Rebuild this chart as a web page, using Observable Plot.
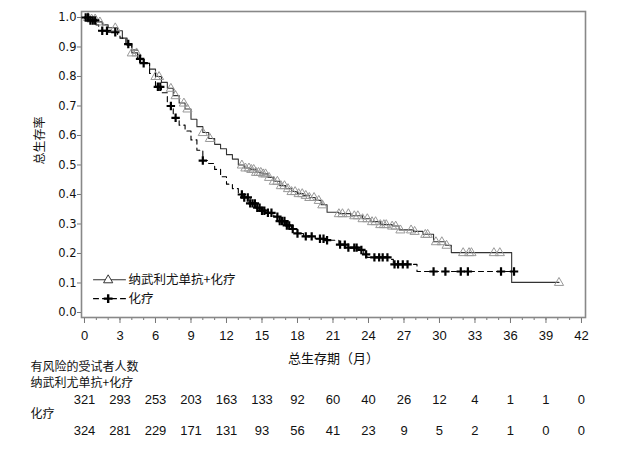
<!DOCTYPE html>
<html>
<head>
<meta charset="utf-8">
<script src="https://cdn.jsdelivr.net/npm/d3@7"></script>
<script src="https://cdn.jsdelivr.net/npm/@observablehq/plot@0.6"></script>
<style>
  html, body { margin: 0; padding: 0; background: #fff; }
  #chart { width: 627px; height: 454px; }
</style>
</head>
<body>
<div id="chart"></div>
<script>
// ---- Data ----
const seriesNames = ["纳武利尤单抗+化疗", "化疗"];

// Kaplan–Meier step points: nivolumab + chemo
const nivoT = [0, 0.5, 1.0, 1.5, 2.0, 2.8, 3.2, 3.6, 4.0, 4.5, 5.0, 5.5, 6.0, 6.5, 7.0, 7.5, 8.0, 8.5, 9.0, 9.5, 10.0, 10.5, 11.0, 11.5, 12.0, 12.5, 13.0, 13.5, 14.0, 14.5, 15.0, 15.5, 16.0, 16.5, 17.0, 17.5, 18.0, 18.5, 19.0, 19.5, 20.0, 20.5, 21.5, 22.5, 23.5, 24.2, 25.0, 26.0, 26.6, 27.8, 28.6, 29.5, 30.5, 31.0, 36.1, 40.1];
const nivoS = [1.0, 0.995, 0.985, 0.975, 0.965, 0.955, 0.93, 0.905, 0.88, 0.86, 0.845, 0.825, 0.80, 0.78, 0.76, 0.735, 0.71, 0.69, 0.655, 0.63, 0.61, 0.59, 0.57, 0.555, 0.535, 0.52, 0.50, 0.49, 0.485, 0.475, 0.47, 0.458, 0.445, 0.43, 0.42, 0.41, 0.403, 0.397, 0.39, 0.38, 0.365, 0.34, 0.335, 0.328, 0.318, 0.308, 0.298, 0.293, 0.28, 0.275, 0.265, 0.24, 0.228, 0.203, 0.102, 0.102];
// censoring times, nivolumab + chemo
const nivoCensorT = [0.3, 0.6, 0.9, 1.3, 2.6, 4.0, 4.4, 6.0, 6.3, 7.3, 7.7, 8.4, 8.7, 10.0, 10.6, 13.3, 13.6, 13.9, 14.1, 14.3, 14.5, 14.7, 14.9, 15.1, 15.3, 15.6, 16.0, 16.3, 16.6, 16.9, 17.2, 17.5, 17.8, 18.1, 18.4, 18.7, 19.0, 19.4, 19.8, 20.1, 21.5, 21.8, 22.3, 22.8, 23.1, 23.5, 23.9, 24.3, 24.6, 25.0, 25.3, 25.5, 26.0, 26.3, 26.7, 27.6, 27.9, 28.8, 29.0, 29.7, 30.2, 30.6, 32.0, 32.5, 32.7, 34.6, 35.1, 40.1];

// Kaplan–Meier step points: chemo
const chemoT = [0, 0.5, 1.0, 1.2, 2.0, 2.8, 3.0, 3.5, 4.0, 4.5, 5.0, 5.5, 6.0, 6.5, 7.0, 7.5, 8.0, 8.5, 9.0, 9.5, 10.0, 10.5, 11.0, 11.5, 12.0, 12.5, 13.0, 13.5, 14.0, 14.5, 15.0, 15.5, 16.0, 16.5, 17.0, 17.5, 18.0, 18.5, 19.5, 20.5, 21.5, 22.3, 23.2, 23.6, 23.9, 25.8, 26.1, 28.1, 36.3];
const chemoS = [1.0, 0.99, 0.975, 0.955, 0.95, 0.94, 0.93, 0.91, 0.89, 0.86, 0.845, 0.81, 0.765, 0.745, 0.70, 0.66, 0.635, 0.615, 0.585, 0.55, 0.515, 0.505, 0.485, 0.46, 0.435, 0.42, 0.40, 0.39, 0.37, 0.355, 0.345, 0.338, 0.325, 0.31, 0.295, 0.283, 0.268, 0.258, 0.25, 0.245, 0.23, 0.22, 0.212, 0.197, 0.187, 0.18, 0.163, 0.139, 0.139];
// censoring times, chemo
const chemoCensorT = [0.1, 0.3, 0.5, 0.7, 0.9, 1.5, 1.9, 2.6, 3.7, 4.7, 5.0, 6.2, 6.4, 7.3, 7.7, 10.0, 13.3, 13.5, 13.8, 14.0, 14.2, 14.4, 14.6, 14.8, 15.0, 15.2, 15.5, 15.8, 16.3, 16.5, 16.7, 16.9, 17.1, 17.3, 17.6, 18.0, 18.7, 19.2, 19.9, 20.2, 20.5, 21.6, 22.0, 22.3, 22.8, 23.0, 23.4, 23.8, 24.5, 24.9, 25.2, 25.6, 26.2, 26.5, 26.9, 27.3, 29.5, 30.5, 31.8, 32.4, 35.2, 36.3];

// axes
const xTicks = [0, 3, 6, 9, 12, 15, 18, 21, 24, 27, 30, 33, 36, 39, 42];
const xMinorTicks = d3.range(0, 43, 1);
const yTicks = [0, 0.1, 0.2, 0.3, 0.4, 0.5, 0.6, 0.7, 0.8, 0.9, 1.0];

// number at risk
const riskTitle = "有风险的受试者人数";
const riskNivo = [321, 293, 253, 203, 163, 133, 92, 60, 40, 26, 12, 4, 1, 1, 0];
const riskChemo = [324, 281, 229, 171, 131, 93, 56, 41, 23, 9, 5, 2, 1, 0, 0];

const xLabel = "总生存期（月）";
const yLabel = "总生存率";

// ---- Build tables ----
const toSteps = (T, S) => T.map((t, i) => ({t, s: S[i]}));
const stepAt = (T, S, t) => { let v = S[0]; for (let i = 0; i < T.length; i++) if (T[i] <= t) v = S[i]; return v; };
const nivoSteps = toSteps(nivoT, nivoS);
const chemoSteps = toSteps(chemoT, chemoS);
const nivoCensor = nivoCensorT.map(t => ({t, s: stepAt(nivoT, nivoS, t)}));
const chemoCensor = chemoCensorT.map(t => ({t, s: stepAt(chemoT, chemoS, t)}));

// custom symbols
const plusSym = { draw(ctx, size) { const r = Math.sqrt(size / Math.PI); ctx.moveTo(-r, 0); ctx.lineTo(r, 0); ctx.moveTo(0, -r); ctx.lineTo(0, r); } };
const triSym = { draw(ctx, size) { const r = Math.sqrt(size / Math.PI); const h = r * Math.sqrt(3); ctx.moveTo(0, -h * 0.62); ctx.lineTo(r, h * 0.38); ctx.lineTo(-r, h * 0.38); ctx.closePath(); } };

// legend (in data coordinates, lower-left of the panel)
const legendY = [0.111, 0.047];
const legendX = [0.76, 3.46];
const legendMarkX = 2.0;
const legendTextX = 3.72;

const cjk = "'Noto Sans CJK SC', 'Noto Sans', sans-serif";
const latin = "'Liberation Sans', Arial, sans-serif";

const plot = Plot.plot({
  width: 627,
  height: 454,
  marginLeft: 81,
  marginRight: 42,
  marginTop: 11,
  marginBottom: 137,
  x: { domain: [-0.2535, 42.34] },
  y: { domain: [-0.01695, 1.0203] },
  style: { background: "#fff", color: "#000" },
  marks: [
    // axes ticks
    Plot.axisX({ ticks: xMinorTicks, tickSize: 3, tickFormat: () => "", stroke: "#777", label: null }),
    Plot.axisX({ ticks: xTicks, tickSize: 6, tickFormat: () => "", stroke: "#777", label: null }),
    Plot.axisY({ ticks: yTicks, tickSize: 4, tickFormat: () => "", stroke: "#777", label: null }),
    Plot.frame({ stroke: "#888", strokeWidth: 1.6 }),
    // tick labels
    Plot.text(xTicks, { x: d => d, text: d => String(d), frameAnchor: "bottom", dy: 18, lineAnchor: "middle", fontSize: 13, fontFamily: latin, fill: "#111" }),
    Plot.text(yTicks, { y: d => d, text: d => d.toFixed(1), frameAnchor: "left", dx: -5, textAnchor: "end", lineAnchor: "middle", fontSize: 11.5, fontFamily: "'DejaVu Sans', sans-serif", fill: "#111" }),
    // axis labels
    Plot.text([xLabel], { frameAnchor: "bottom", dy: 41, lineAnchor: "middle", fontSize: 13, fontFamily: cjk, fill: "#111" }),
    Plot.text([yLabel], { frameAnchor: "left", dx: -41, rotate: -90, lineAnchor: "middle", fontSize: 12, fontFamily: cjk, fill: "#111" }),
    // curves
    Plot.line(nivoSteps, { x: "t", y: "s", curve: "step-after", stroke: "#333", strokeWidth: 1.1 }),
    Plot.line(chemoSteps, { x: "t", y: "s", curve: "step-after", stroke: "#000", strokeWidth: 1.1, strokeDasharray: "5,4" }),
    // censor marks
    Plot.dot(nivoCensor, { x: "t", y: "s", symbol: triSym, r: 4.6, stroke: "#999", strokeWidth: 1, fill: "none" }),
    Plot.dot(chemoCensor, { x: "t", y: "s", symbol: plusSym, r: 4.2, stroke: "#000", strokeWidth: 2.2 }),
    // legend
    Plot.line(legendX.map(x => ({x, y: legendY[0]})), { x: "x", y: "y", stroke: "#333", strokeWidth: 1.1 }),
    Plot.line(legendX.map(x => ({x, y: legendY[1]})), { x: "x", y: "y", stroke: "#000", strokeWidth: 1.1, strokeDasharray: "5,4" }),
    Plot.dot([{x: legendMarkX, y: legendY[0]}], { x: "x", y: "y", symbol: triSym, r: 4.6, stroke: "#333", fill: "#fff", strokeWidth: 1 }),
    Plot.dot([{x: legendMarkX, y: legendY[1]}], { x: "x", y: "y", symbol: plusSym, r: 4.4, stroke: "#000", strokeWidth: 2.4 }),
    Plot.text(seriesNames.map((n, i) => ({n, y: legendY[i]})), { x: legendTextX, y: "y", text: "n", textAnchor: "start", lineAnchor: "middle", fontSize: 12.5, fontFamily: cjk, fill: "#111" }),
    // number at risk table
    Plot.text([riskTitle], { frameAnchor: "bottom-left", dx: -51, dy: 50, textAnchor: "start", lineAnchor: "middle", fontSize: 12, fontFamily: cjk, fill: "#111" }),
    Plot.text([seriesNames[0]], { frameAnchor: "bottom-left", dx: -51, dy: 66, textAnchor: "start", lineAnchor: "middle", fontSize: 12, fontFamily: cjk, fill: "#111" }),
    Plot.text(xTicks, { x: d => d, text: (d, i) => String(riskNivo[i]), frameAnchor: "bottom", dy: 82, lineAnchor: "middle", fontSize: 13, fontFamily: latin, fill: "#111" }),
    Plot.text([seriesNames[1]], { frameAnchor: "bottom-left", dx: -51, dy: 97, textAnchor: "start", lineAnchor: "middle", fontSize: 12, fontFamily: cjk, fill: "#111" }),
    Plot.text(xTicks, { x: d => d, text: (d, i) => String(riskChemo[i]), frameAnchor: "bottom", dy: 113, lineAnchor: "middle", fontSize: 13, fontFamily: latin, fill: "#111" })
  ]
});
document.getElementById("chart").appendChild(plot);
</script>
</body>
</html>
